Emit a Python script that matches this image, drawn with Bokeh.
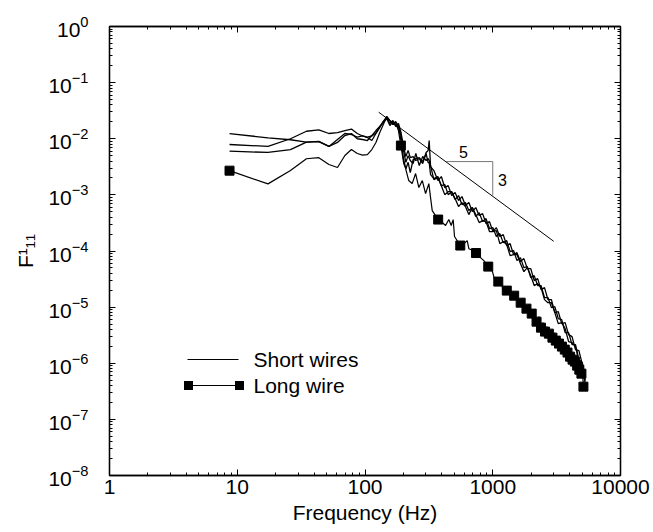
from bokeh.plotting import figure
from bokeh.models import (FixedTicker, LogAxis, NumeralTickFormatter, Label,
                          Arrow, BoxAnnotation, Range1d, CustomJSTickFormatter, LogTickFormatter)
from bokeh.embed import file_html
from bokeh.resources import INLINE

# ---------------- data ----------------
short_f = [8.7, 17.4, 26.1, 34.8, 43.5, 52.2, 60.9, 69.6, 78.3, 87.0, 95.7, 104.4, 113.1,
           121.8, 130.5, 139.2, 147.9, 156.6, 165.3, 174.0, 182.7, 191.4, 200.1, 208.8, 217.5, 226.2,
           238, 250, 266, 283, 301, 312, 318, 326, 346, 372, 396, 421, 448, 477, 507, 540, 574,
           611, 650, 692, 736, 783, 833, 886, 943, 1003, 1067, 1136, 1208, 1286, 1368, 1455, 1548,
           1647, 1753, 1865, 1984, 2111, 2246, 2390, 2542, 2705, 2878, 3062, 3258, 3466, 3688,
           3924, 4175, 4442, 4726, 5028, 5300]

short_a = [1.23e-2, 1.04e-2, 9.6e-3, 8.7e-3, 8.9e-3, 7.3e-3, 9.7e-3, 1.24e-2, 1.19e-2, 1.07e-2,
           1.12e-2, 1.05e-2, 9.3e-3, 1.24e-2, 1.58e-2, 2.03e-2, 2.39e-2, 1.87e-2, 2.11e-2, 1.72e-2,
           1.87e-2, 1.29e-2, 7.3e-3, 4.8e-3, 6.2e-3, 4.6e-3,
           4.82e-3, 4.09e-3, 4.44e-3, 3.61e-3, 5.68e-3, 6.16e-3, 9.29e-3,
           3.19e-3, 2.71e-3, 1.80e-3, 2.12e-3, 1.35e-3, 1.46e-3, 9.72e-4, 1.10e-3, 7.91e-4, 9.33e-4,
           6.44e-4, 7.29e-4, 5.04e-4, 5.94e-4, 4.28e-4, 4.64e-4, 3.08e-4, 3.34e-4, 2.22e-4, 2.61e-4,
           1.81e-4, 1.96e-4, 1.25e-4, 1.35e-4, 8.63e-5, 9.36e-5, 6.47e-5, 7.32e-5, 4.86e-5, 4.86e-5,
           2.97e-5, 3.22e-5, 2.05e-5, 2.23e-5, 1.36e-5, 1.36e-5, 7.98e-6, 8.31e-6, 5.08e-6, 5.29e-6,
           3.23e-6, 2.98e-6, 1.75e-6, 1.68e-6, 9.44e-7, 6.01e-7]

short_b = [7.9e-3, 7.3e-3, 1.0e-2, 1.36e-2, 1.44e-2, 1.24e-2, 1.29e-2, 1.40e-2, 1.49e-2, 1.24e-2,
           1.12e-2, 1.07e-2, 1.12e-2, 1.27e-2, 1.65e-2, 2.03e-2, 2.49e-2, 2.11e-2, 1.79e-2, 2.03e-2,
           1.65e-2, 1.14e-2, 6.2e-3, 3.8e-3, 5.0e-3, 4.1e-3,
           3.61e-3, 5.45e-3, 3.33e-3, 4.82e-3, 4.09e-3, 4.44e-3, 4.09e-3, 3.33e-3, 1.87e-3, 2.03e-3,
           1.46e-3, 1.53e-3, 1.01e-3, 1.14e-3, 8.24e-4, 9.72e-4, 6.72e-4, 7.29e-4, 5.25e-4, 5.94e-4,
           4.10e-4, 4.83e-4, 3.34e-4, 3.78e-4, 2.51e-4, 2.61e-4, 1.81e-4, 2.04e-4, 1.41e-4, 1.53e-4,
           9.76e-5, 1.02e-4, 6.74e-5, 7.62e-5, 5.06e-5, 5.27e-5, 3.36e-5, 3.64e-5, 2.42e-5, 2.42e-5,
           1.48e-5, 1.48e-5, 9.79e-6, 1.02e-5, 6.24e-6, 5.99e-6, 3.51e-6, 3.51e-6, 2.15e-6, 2.15e-6,
           1.16e-6, 1.02e-6, 4.90e-7]

short_c = [6.0e-3, 5.7e-3, 6.4e-3, 8.7e-3, 9.0e-3, 7.3e-3, 8.6e-3, 1.14e-2, 1.24e-2, 1.0e-2,
           9.7e-3, 9.3e-3, 1.14e-2, 1.40e-2, 1.65e-2, 1.94e-2, 2.29e-2, 1.72e-2, 2.03e-2, 1.65e-2,
           1.72e-2, 9.3e-3, 4.4e-3, 2.9e-3, 3.8e-3, 2.5e-3,
           4.26e-3, 4.44e-3, 4.62e-3, 3.92e-3, 5.45e-3, 3.76e-3, 3.76e-3,
           2.30e-3, 1.95e-3, 2.12e-3, 1.46e-3, 1.01e-3, 1.14e-3, 1.14e-3, 8.59e-4, 6.18e-4, 7.29e-4,
           6.18e-4, 4.45e-4, 5.94e-4, 4.45e-4, 3.21e-4, 3.48e-4, 3.34e-4, 2.22e-4, 2.22e-4, 2.31e-4,
           1.35e-4, 1.47e-4, 1.30e-4, 8.28e-5, 8.63e-5, 8.63e-5, 5.96e-5, 4.29e-5, 5.06e-5, 3.64e-5,
           2.42e-5, 2.62e-5, 2.23e-5, 1.36e-5, 1.20e-5, 1.20e-5, 7.98e-6, 5.08e-6, 5.29e-6, 4.14e-6,
           2.43e-6, 2.33e-6, 1.98e-6, 1.11e-6, 8.35e-7, 4.33e-7]

long_f = [8.7, 17.4, 26.1, 34.8, 43.5, 52.2, 60.9, 69.6, 78.3, 87.0, 95.7, 104.4, 113.1, 121.8,
          130.5, 139.2, 147.9, 156.6, 165.3, 174.0, 182.7, 191, 201, 207, 220, 234, 249, 264, 281,
          298, 316, 326, 336, 374, 402, 427, 453, 473, 490, 502, 557, 593, 631, 650, 700, 740, 802,
          851, 922, 980, 1040, 1105, 1170, 1230, 1288, 1350, 1410, 1471, 1530, 1590, 1654, 1720,
          1780, 1836, 1920, 2019, 2110, 2202, 2290, 2385, 2470, 2567, 2650, 2750, 2840, 2933, 3020,
          3116, 3210, 3299, 3390, 3481, 3570, 3664, 3750, 3847, 3940, 4030, 4120, 4213, 4300, 4395,
          4490, 4578, 4670, 4761, 4850, 4944, 5040, 5127]

long_F = [2.7e-3, 1.57e-3, 2.71e-3, 4.4e-3, 4.6e-3, 3.47e-3, 3.07e-3, 5.02e-3, 6.42e-3, 5.45e-3,
          5.1e-3, 5.23e-3, 6.42e-3, 8.55e-3, 1.29e-2, 1.79e-2, 2.49e-2, 2.11e-2, 1.79e-2, 1.94e-2,
          1.40e-2, 7.56e-3, 3.61e-3, 3.07e-3, 1.80e-3, 1.59e-3, 2.40e-3, 1.35e-3, 1.80e-3, 1.05e-3,
          1.59e-3, 8.95e-4, 5.25e-4, 3.63e-4, 3.21e-4, 2.84e-4, 3.63e-4, 2.84e-4, 3.63e-4, 1.81e-4,
          1.25e-4, 1.35e-4, 1.53e-4, 1.10e-4, 1.02e-4, 9.2e-5, 7.62e-5, 6.74e-5, 5.27e-5, 4.86e-5,
          2.97e-5, 2.85e-5, 2.62e-5, 1.74e-5, 1.97e-5, 2.05e-5, 1.42e-5, 1.60e-5, 1.81e-5, 1.15e-5,
          1.20e-5, 1.42e-5, 8.66e-6, 9.40e-6, 1.11e-5, 7.66e-6, 7.98e-6, 5.51e-6, 6.77e-6, 4.31e-6,
          5.29e-6, 3.66e-6, 4.49e-6, 3.37e-6, 3.81e-6, 2.86e-6, 3.51e-6, 2.53e-6, 2.98e-6, 2.24e-6,
          2.74e-6, 1.98e-6, 2.33e-6, 1.75e-6, 2.15e-6, 1.55e-6, 1.90e-6, 1.31e-6, 1.68e-6, 1.16e-6,
          1.42e-6, 1.07e-6, 1.26e-6, 9.06e-7, 1.11e-6, 7.69e-7, 9.44e-7, 6.53e-7, 6.80e-7, 3.83e-7]

marker_f = [8.7, 191, 374, 557, 740, 922, 1105, 1288, 1471, 1654, 1836, 2019, 2202, 2385, 2567,
            2750, 2933, 3116, 3299, 3481, 3664, 3847, 4030, 4213, 4395, 4578, 4761, 4944, 5127]
marker_F = [2.7e-3, 7.56e-3, 3.63e-4, 1.25e-4, 9.2e-5, 5.27e-5, 2.85e-5, 1.97e-5, 1.60e-5, 1.20e-5,
            9.40e-6, 7.66e-6, 5.51e-6, 4.31e-6, 3.66e-6, 3.37e-6, 2.86e-6, 2.53e-6, 2.24e-6, 1.98e-6,
            1.75e-6, 1.55e-6, 1.31e-6, 1.16e-6, 1.07e-6, 9.06e-7, 7.69e-7, 6.53e-7, 3.83e-7]

slope_f = [128, 3000]
slope_F = [2.97e-2, 1.49e-4]
tri_f = [431, 1000, 1000]
tri_F = [3.92e-3, 3.92e-3, 9.7e-4]
slope_labels = ["5", "3"]

x_ticks = [1, 10, 100, 1000, 10000]
y_ticks = [1e0, 1e-1, 1e-2, 1e-3, 1e-4, 1e-5, 1e-6, 1e-7, 1e-8]
legend_labels = ["Short wires", "Long wire"]
x_title = "Frequency (Hz)"
y_title = "F\u00b9\u2081\u2081"

FONT = "Liberation Sans"

# ---------------- figure ----------------
p = figure(width=653, height=532, x_axis_type="log", y_axis_type="log",
           x_range=Range1d(1, 1e4), y_range=Range1d(1e-8, 1),
           output_backend="svg", toolbar_location=None,
           min_border_left=109, min_border_right=33, min_border_top=26, min_border_bottom=57)
p.grid.visible = False
p.outline_line_color = "black"
p.outline_line_width = 1.3
p.background_fill_color = "white"
p.border_fill_color = "white"

x_minor = [m * 10.0 ** k for k in range(0, 4) for m in range(2, 10)]
y_minor = [m * 10.0 ** k for k in range(-8, 0) for m in range(2, 10)]

blank = CustomJSTickFormatter(code="return '';")


def style_axis(ax, show_labels):
    ax.major_tick_in = 6
    ax.major_tick_out = 0
    ax.minor_tick_in = 3
    ax.minor_tick_out = 0
    ax.axis_line_color = "black"
    ax.axis_line_width = 1.3
    ax.major_tick_line_color = "black"
    ax.minor_tick_line_color = "black"
    ax.major_label_text_font = FONT
    ax.major_label_text_font_size = "21px"
    ax.major_label_text_color = "black"
    ax.axis_label_text_font = FONT
    ax.axis_label_text_font_size = "21px"
    ax.axis_label_text_font_style = "normal"
    ax.axis_label_text_color = "black"
    if not show_labels:
        ax.formatter = blank
        ax.major_label_standoff = 0


xax = p.xaxis[0]
xax.ticker = FixedTicker(ticks=x_ticks, minor_ticks=x_minor)
style_axis(xax, True)
xax.formatter = NumeralTickFormatter(format="0")
xax.major_label_standoff = 4
xax.axis_label = x_title
xax.axis_label_standoff = 4

yax = p.yaxis[0]
yax.ticker = FixedTicker(ticks=y_ticks, minor_ticks=y_minor)
style_axis(yax, True)
yax.formatter = LogTickFormatter()
yax.major_label_standoff = 21
yax.axis_label = y_title
yax.axis_label_standoff = 8

top = LogAxis(ticker=FixedTicker(ticks=x_ticks, minor_ticks=x_minor))
style_axis(top, False)
p.add_layout(top, "above")
right = LogAxis(ticker=FixedTicker(ticks=y_ticks, minor_ticks=y_minor))
style_axis(right, False)
p.add_layout(right, "right")

# ---------------- data lines ----------------
for s in (short_a, short_b, short_c):
    p.line(short_f, s, line_color="black", line_width=1.3)
p.line(long_f, long_F, line_color="black", line_width=1.2)
p.scatter(marker_f, marker_F, marker="square", size=9, fill_color="black", line_color="black")
p.line(slope_f, slope_F, line_color="black", line_width=1)
p.line(tri_f, tri_F, line_color="#777777", line_width=1)

p.add_layout(Label(x=590, y=5.7e-3, text=slope_labels[0], text_font=FONT, text_font_size="16px",
                   text_align="center", text_baseline="middle", text_color="black"))
p.add_layout(Label(x=1192, y=1.87e-3, text=slope_labels[1], text_font=FONT, text_font_size="16px",
                   text_align="center", text_baseline="middle", text_color="black"))

# ---------------- legend (drawn by hand, inside the frame) ----------------
p.add_layout(Arrow(end=None, x_start=78, y_start=116, x_end=129, y_end=116,
                   start_units="screen", end_units="screen", line_color="black", line_width=1))
p.add_layout(Arrow(end=None, x_start=79, y_start=90, x_end=130, y_end=90,
                   start_units="screen", end_units="screen", line_color="black", line_width=1))
for cx in (79, 130):
    p.add_layout(BoxAnnotation(left=cx - 4.5, right=cx + 4.5, bottom=85.5, top=94.5,
                               left_units="screen", right_units="screen",
                               top_units="screen", bottom_units="screen",
                               fill_color="black", fill_alpha=1, line_color=None))
p.add_layout(Label(x=144, y=116, x_units="screen", y_units="screen", text=legend_labels[0],
                   text_font=FONT, text_font_size="21px", text_baseline="middle", text_color="black"))
p.add_layout(Label(x=144, y=90, x_units="screen", y_units="screen", text=legend_labels[1],
                   text_font=FONT, text_font_size="21px", text_baseline="middle", text_color="black"))

open("out.html", "w").write(file_html(p, INLINE))
